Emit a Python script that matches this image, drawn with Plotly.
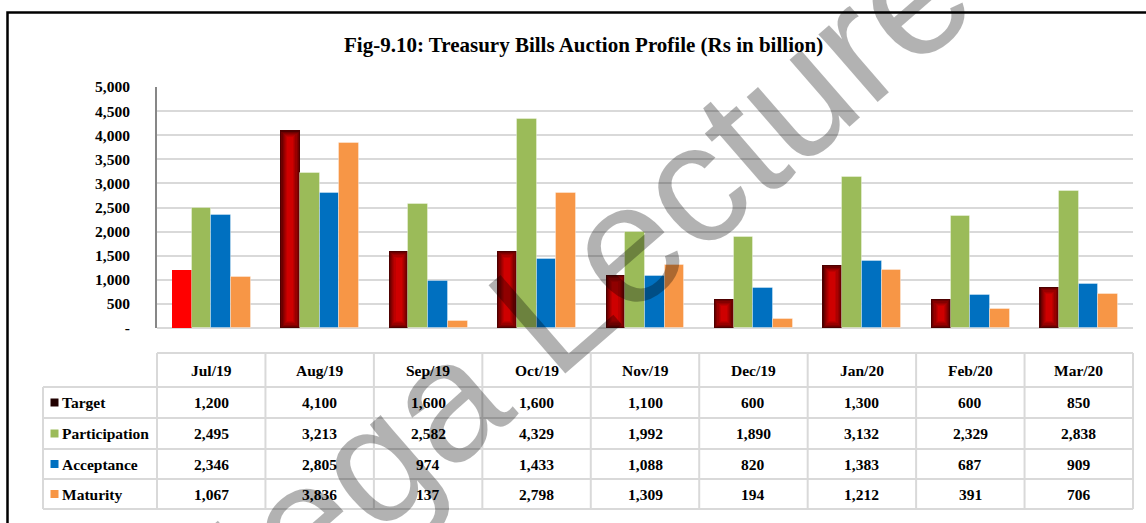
import plotly.graph_objects as go

# ---- data (Rs in billion) ----
months = ["Jul/19", "Aug/19", "Sep/19", "Oct/19", "Nov/19", "Dec/19", "Jan/20", "Feb/20", "Mar/20"]
target = [1200, 4100, 1600, 1600, 1100, 600, 1300, 600, 850]
participation = [2495, 3213, 2582, 4329, 1992, 1890, 3132, 2329, 2838]
acceptance = [2346, 2805, 974, 1433, 1088, 820, 1383, 687, 909]
maturity = [1067, 3836, 137, 2798, 1309, 194, 1212, 391, 706]
series_names = ["Target", "Participation", "Acceptance", "Maturity"]
y_tick_vals = [0, 500, 1000, 1500, 2000, 2500, 3000, 3500, 4000, 4500, 5000]
y_tick_text = ["-", "500", "1,000", "1,500", "2,000", "2,500", "3,000", "3,500", "4,000", "4,500", "5,000"]

# ---- page geometry ----
W, H = 1146, 523
L, R, T, B = 157, 13, 87, 195
PW, PH = W - L - R, H - T - B
Y_MAX = 5000
SERIF = "Liberation Serif, Times New Roman, serif"

def px_x(px):
    return (px - L) / PW

def px_y(py):
    return (T + PH - py) / PH

x_pos = list(range(len(months)))
bar_w = 0.1817
start = -2 * bar_w
unit_per_px_x = len(months) / PW
unit_per_px_y = Y_MAX / PH

series_colors = {
    "Target": "#200000",
    "Participation": "#9bbb59",
    "Acceptance": "#0070c0",
    "Maturity": "#f79646",
}

fig = go.Figure()

# Target bars: shaded from dark edges to a bright red centre
levels = 7
step_px = 1.15
dark, bright = (78, 0, 0), (206, 0, 0)
for i in range(levels):
    t = (i / (levels - 1)) ** 0.8
    c = tuple(round(dark[k] + (bright[k] - dark[k]) * t) for k in range(3))
    col = "rgb(%d,%d,%d)" % c
    colors = ["#ff0000"] + [col] * (len(months) - 1)
    inset_x = i * step_px * unit_per_px_x
    inset_y = i * step_px * unit_per_px_y
    fig.add_trace(go.Bar(
        x=x_pos,
        y=[v - 2 * inset_y for v in target],
        base=inset_y,
        width=bar_w - 2 * inset_x,
        offset=start + inset_x,
        marker=dict(color=colors, line=dict(width=0)),
        name="Target",
        showlegend=False,
        hoverinfo="skip" if i else None,
    ))

for k, (name, vals) in enumerate([("Participation", participation),
                                   ("Acceptance", acceptance),
                                   ("Maturity", maturity)], start=1):
    fig.add_trace(go.Bar(
        x=x_pos, y=vals,
        width=bar_w, offset=start + k * bar_w,
        marker=dict(color=series_colors[name],
                    line=dict(width=1, color="rgba(255,255,255,0.35)")),
        name=name, showlegend=False,
    ))

shapes = []
annotations = []
grid = "#d9d9d9"

# outer frame
shapes.append(dict(type="rect", xref="paper", yref="paper",
                   x0=px_x(7.5), x1=px_x(1200), y0=px_y(12.5), y1=px_y(600),
                   line=dict(color="black", width=2.5), layer="above"))

# data table grid
row_edges = [353, 387, 418, 449, 479, 509]
label_left = px_x(43)
n = len(months)
shapes.append(dict(type="line", xref="paper", yref="paper", x0=0, x1=1,
                   y0=px_y(row_edges[0]), y1=px_y(row_edges[0]),
                   line=dict(color=grid, width=2)))
for ry in row_edges[1:]:
    shapes.append(dict(type="line", xref="paper", yref="paper", x0=label_left, x1=1,
                       y0=px_y(ry), y1=px_y(ry), line=dict(color=grid, width=2)))
shapes.append(dict(type="line", xref="paper", yref="paper", x0=label_left, x1=label_left,
                   y0=px_y(row_edges[1]), y1=px_y(row_edges[-1]),
                   line=dict(color=grid, width=2)))
for i in range(n + 1):
    shapes.append(dict(type="line", xref="paper", yref="paper", x0=i / n, x1=i / n,
                       y0=px_y(row_edges[0]), y1=px_y(row_edges[-1]),
                       line=dict(color=grid, width=2)))

cell_font = dict(family=SERIF, size=15.5, color="black", weight="bold")

# header row
head_y = (row_edges[0] + row_edges[1]) / 2
for i, m in enumerate(months):
    annotations.append(dict(xref="paper", yref="paper", x=(i + 0.5) / n, y=px_y(head_y),
                            text=m, showarrow=False, font=cell_font,
                            xanchor="center", yanchor="middle"))

# body rows
rows = [target, participation, acceptance, maturity]
for r, (name, vals) in enumerate(zip(series_names, rows)):
    cy = (row_edges[r + 1] + row_edges[r + 2]) / 2
    shapes.append(dict(type="rect", xref="paper", yref="paper",
                       x0=px_x(50.5), x1=px_x(58.5), y0=px_y(cy - 4), y1=px_y(cy + 4),
                       fillcolor=series_colors[name], line=dict(width=0)))
    annotations.append(dict(xref="paper", yref="paper", x=px_x(60), y=px_y(cy),
                            text=name, showarrow=False, font=cell_font,
                            xanchor="left", yanchor="middle"))
    for i, v in enumerate(vals):
        annotations.append(dict(xref="paper", yref="paper", x=(i + 0.5) / n, y=px_y(cy),
                                text=f"{v:,}", showarrow=False, font=cell_font,
                                xanchor="center", yanchor="middle"))

# title
annotations.append(dict(xref="paper", yref="paper", x=px_x(583.5), y=px_y(45),
                        text="Fig-9.10: Treasury Bills Auction Profile (Rs in billion)",
                        showarrow=False,
                        font=dict(family=SERIF, size=21, color="black", weight="bold"),
                        xanchor="center", yanchor="middle"))

# watermark
annotations.append(dict(xref="paper", yref="paper", x=px_x(552), y=px_y(307),
                        text="Mega Lecture", showarrow=False, textangle=-41,
                        font=dict(family="Liberation Sans, Arial, sans-serif", size=170,
                                  color="rgba(0,0,0,0.3)"),
                        xanchor="center", yanchor="middle"))

fig.update_layout(
    width=W, height=H, autosize=False,
    margin=dict(l=L, r=R, t=T, b=B, pad=0),
    paper_bgcolor="white", plot_bgcolor="white",
    barmode="overlay", bargap=0,
    showlegend=False,
    shapes=shapes, annotations=annotations,
    xaxis=dict(range=[-0.5, n - 0.5], showticklabels=False, showgrid=False,
               zeroline=False, showline=False, fixedrange=True),
    yaxis=dict(range=[0, Y_MAX], tickvals=y_tick_vals, ticktext=y_tick_text,
               tickfont=dict(family=SERIF, size=15.5, color="black", weight="bold"),
               showgrid=True, gridcolor=grid, gridwidth=1.6,
               zeroline=True, zerolinecolor=grid, zerolinewidth=2,
               showline=True, linecolor="#878787", linewidth=2,
               ticks="", ticklabelstandoff=22, automargin=False, fixedrange=True),
)

fig.write_html("out.html")
